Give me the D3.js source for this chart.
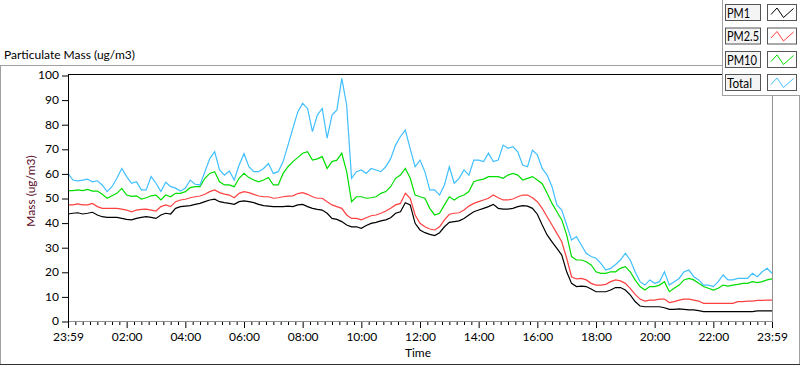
<!DOCTYPE html>
<html>
<head>
<meta charset="utf-8">
<script src="https://cdn.jsdelivr.net/npm/d3@7"></script>
<style>
  html, body { margin: 0; padding: 0; background: #fff; }
  svg { display: block; }
  text { font-family: "Segoe UI", Lato, "Noto Sans", sans-serif; }
</style>
</head>
<body>
<svg id="chart" width="800" height="365"></svg>
<script>
const seriesNames = ["PM1", "PM2.5", "PM10", "Total"];
const seriesColors = ["#000000", "#ff4040", "#00dd00", "#40bfff"];
const tickLabels = ["23:59","02:00","04:00","06:00","08:00","10:00","12:00","14:00","16:00","18:00","20:00","22:00","23:59"];
const yTicks = [0,10,20,30,40,50,60,70,80,90,100];

const pm1 = [43.5,43.8,44,43.5,43.8,44.2,43.1,42.4,42.1,42.1,42.1,41.7,41.3,41.1,41.7,42.1,42.4,42.1,41.7,43.1,43.8,43.5,45.8,46.5,46.7,46.9,47.4,47.8,48.5,49.2,49.5,48.5,48.1,47.8,47.4,48.5,48.8,48.5,48.1,47.4,46.9,46.7,46.5,46.5,46.5,46.7,46.5,47.2,47.4,
  46.5,45.8,45.4,45.1,43.8,41.7,41.3,40.4,39,38.3,38.3,37.7,38.8,39.7,40.1,40.7,41.1,42,43.8,44.4,48.1,47.2,39.7,37,35.9,35.2,34.7,35.9,38.3,40.1,40.4,40.7,41.7,43.1,44.4,45.1,45.8,46.5,47.4,45.8,45.5,45.5,45.8,46.5,46.9,46.7,45.8,43.4,
  39,35,32.2,29.5,26.8,20,15.3,14,14.2,14,13,11.9,11.9,11.9,12.6,13.6,13.6,12.6,10.6,7.9,6.1,5.8,5.8,5.8,5.8,5.4,4.7,4.7,4.9,4.7,4.5,4.5,4.2,3.8,3.8,3.8,3.8,3.8,3.8,3.8,3.8,3.8,3.8,3.8,4.1,4.1,4.1,4.1];

const pm25 = [47.2,47.2,47.6,47.2,47.2,47.8,46.5,45.8,45.8,45.8,45.8,45.5,45.1,44.4,45.1,45.4,45.5,45.1,44.7,46.5,47.2,46.5,48.5,49.2,49.5,50.1,50.5,50.8,51.5,52.6,53.3,52.2,51.6,51.2,50.1,51.9,52.6,52.2,51.5,50.8,50.5,50.5,49.9,50.1,50.5,50.8,50.9,51.8,52.2,
  51.5,50.5,49.9,49.9,48.5,47.2,46.5,45.8,43.1,41.7,41.7,41.1,42,42.8,43.1,43.8,44.7,45.8,47.2,47.8,51.9,49.9,43.1,39.7,38.3,37.4,37,38.3,41.1,43.4,43.8,44,45.1,46.7,47.8,48.5,49.2,49.9,51.2,50.1,49.2,49.2,49.6,50.5,51.2,51.2,50.1,48.5,
  45.8,42.4,39,35.6,32.2,25.5,18,17.1,17.3,16.7,15.3,14.6,14.6,14.9,16,16.7,16.3,15.3,13.3,10.8,8.9,8.1,8.5,8.5,8.9,8.9,7.5,7.9,8.5,8.9,8.9,8.5,8.1,7.2,7.2,7.2,7.2,7.2,7.2,7.2,7.9,7.9,8.1,8.1,8.4,8.4,8.5,8.5];

const pm10 = [53,53,53.3,53,53.5,52.8,52.8,51.5,49.9,50.9,51.9,53.9,51.2,50.7,50.9,49.6,50.1,50.9,51.2,49.2,51.2,50.5,51.9,51.9,52.6,54.2,54.6,54.6,58,60,60.7,56.6,55.3,55.3,54.6,58,60,58.3,57.3,56.6,57.3,58.3,55.3,55.3,60,62.7,64.8,66.4,68.2,
  68.8,65.4,65.9,66.8,62,64.8,65.4,68.2,60.7,48.5,50.5,50.5,49.9,50.1,50.5,51.9,52.6,54.6,58,59.3,62,58,51.2,50.5,49.9,45.8,43.1,43.8,47.2,50.5,49.2,50.5,51.2,52.6,56.6,57.3,57.7,58.7,58.7,58.7,58,59.3,60,59.3,57.3,58,58.7,57.3,
  55.8,51.9,47.8,44.4,41.1,35,26.2,24.8,24.8,24.1,22.8,20,19.4,19.4,20,20,21.4,22.1,20,16.7,14,12.6,14,14,14.6,16,11.9,13.3,14.6,16.7,17.3,16.7,15.3,14,13.3,12.6,13.3,14.6,14.2,14.6,14.9,15.3,15.3,16,15.6,16,16.7,17.1];

const total = [60,57.3,57,57.3,57.7,56.6,57,55.3,52.6,54.6,58,62,58.7,56,56.6,53.3,53.3,58.7,56,52.6,56.4,54.6,54,52.8,54,57.3,55.6,55.3,60.7,66,68.8,61.4,59.3,61,57.3,63.4,68,62.7,60.7,60.7,62,64,60,60.7,64.8,71.5,78.3,85,88.5,
  86.4,77,83.7,86.4,74.3,83.7,85.8,98.6,87.8,58,60.7,61.4,60,62,61.4,60.7,62.7,66,71.5,75,77.6,70,62.7,65.4,60.7,53.3,53.3,51.2,55.3,62.7,56,58,61.4,59.3,65.4,65.4,64.8,68.2,64.8,65.4,71.5,70.2,70.9,68.8,63.4,62.7,69.5,67.5,
  62,59.3,54.6,47.2,45.1,39,32.9,34.3,30.9,27.5,26.2,25.5,23.4,20.7,21.4,23,24.8,27.5,24.8,20,16,14.6,16.7,15.3,16,20,14.6,16,17.3,20,20.7,18,16.7,14.6,14.6,14,16,18.7,16.7,16.7,17.3,17.3,17.3,19.4,18,20,21.4,19.4];

const seriesValues = [pm1, pm25, pm10, total];
const sampleMinutes = pm1.map((d, i) => i * 10);   // minutes since 23:59

// ---- layout ----
const svg = d3.select("#chart");
const plot = { left: 68, right: 772, top: 75, bottom: 321 };
const x = d3.scaleLinear().domain([0, 1440]).range([plot.left, plot.right]);
const y = d3.scaleLinear().domain([0, 100]).range([plot.bottom, plot.top]);

svg.append("rect").attr("width", 800).attr("height", 365).attr("fill", "#fff");

// outer panel frame
svg.append("line").attr("x1", 0).attr("x2", 722).attr("y1", 65.5).attr("y2", 65.5).attr("stroke", "#a0a0a0");
svg.append("line").attr("x1", 0.5).attr("x2", 0.5).attr("y1", 65).attr("y2", 365).attr("stroke", "#a0a0a0");
svg.append("line").attr("x1", 799.5).attr("x2", 799.5).attr("y1", 0).attr("y2", 365).attr("stroke", "#a0a0a0");
svg.append("line").attr("x1", 0).attr("x2", 800).attr("y1", 364.5).attr("y2", 364.5).attr("stroke", "#303030");

// title
svg.append("text").attr("x", 4).attr("y", 59).attr("font-size", 12).attr("fill", "#000")
  .text("Particulate Mass (ug/m3)");

// plot background
svg.append("rect").attr("x", plot.left).attr("y", plot.top).attr("width", plot.right - plot.left).attr("height", plot.bottom - plot.top).attr("fill", "#fff");

// series lines
const line = d3.line().x((d, i) => x(sampleMinutes[i])).y(d => y(d));
seriesValues.forEach((vals, k) => {
  svg.append("path").datum(vals).attr("d", line).attr("fill", "none")
    .attr("stroke", seriesColors[k]).attr("stroke-width", 1.2).attr("stroke-linejoin", "miter");
});

// plot frame
svg.append("line").attr("x1", plot.left).attr("x2", plot.right).attr("y1", 74.5).attr("y2", 74.5).attr("stroke", "#000");
svg.append("line").attr("x1", plot.right + 0.5).attr("x2", plot.right + 0.5).attr("y1", 74).attr("y2", 322).attr("stroke", "#909090");
svg.append("line").attr("x1", plot.left).attr("x2", plot.right + 1).attr("y1", plot.bottom + 0.5).attr("y2", plot.bottom + 0.5).attr("stroke", "#909090");
svg.append("line").attr("x1", plot.left + 0.5).attr("x2", plot.left + 0.5).attr("y1", 74).attr("y2", 323).attr("stroke", "#000");

// y axis
const yAxis = d3.axisLeft(y).tickValues(yTicks).tickSize(6).tickPadding(3);
const gy = svg.append("g").attr("transform", `translate(${plot.left},0)`).call(yAxis);
gy.select(".domain").remove();
gy.selectAll(".tick line").attr("stroke", "#000").attr("transform", "translate(0,0.5)");
gy.selectAll(".tick text").attr("font-size", 12).attr("fill", "#000")
  .attr("font-family", '"Segoe UI", Lato, "Noto Sans", sans-serif');

// x axis
const majorMin = tickLabels.map((d, i) => i * 120);
const minorMin = d3.range(0, 1441, 15).filter(m => m % 120 !== 0);
const gxMinor = svg.append("g").attr("transform", `translate(0,${plot.bottom + 1})`)
  .call(d3.axisBottom(x).tickValues(minorMin).tickSize(3).tickFormat(""));
gxMinor.select(".domain").remove();
gxMinor.selectAll(".tick line").attr("stroke", "#000");
const gx = svg.append("g").attr("transform", `translate(0,${plot.bottom + 1})`)
  .call(d3.axisBottom(x).tickValues(majorMin).tickSize(6).tickPadding(4).tickFormat((d, i) => tickLabels[i]));
gx.select(".domain").remove();
gx.selectAll(".tick line").attr("stroke", "#000");
gx.selectAll(".tick text").attr("font-size", 12).attr("fill", "#000")
  .attr("font-family", '"Segoe UI", Lato, "Noto Sans", sans-serif');

// axis titles
svg.append("text").attr("x", 418).attr("y", 357).attr("text-anchor", "middle").attr("font-size", 12).attr("fill", "#000").text("Time");
svg.append("text").attr("transform", "translate(35,191) rotate(-90)").attr("text-anchor", "middle")
  .attr("font-size", 12).attr("fill", "#5a0a28").text("Mass (ug/m3)");

// legend panel
const lg = svg.append("g");
lg.append("rect").attr("x", 722).attr("y", 0).attr("width", 78).attr("height", 95).attr("fill", "#fff");
lg.append("line").attr("x1", 722.5).attr("x2", 722.5).attr("y1", 0).attr("y2", 96).attr("stroke", "#a0a0a0");
lg.append("line").attr("x1", 722).attr("x2", 800).attr("y1", 95.5).attr("y2", 95.5).attr("stroke", "#a0a0a0");
const rowTops = [4, 27.5, 51, 74];
const labelWidths = [23, 32, 30, 25];
seriesNames.forEach((name, k) => {
  const t = rowTops[k];
  lg.append("rect").attr("x", 725.5).attr("y", t + 0.5).attr("width", 35).attr("height", 16)
    .attr("fill", "#f4f4f4").attr("stroke", "#555");
  lg.append("text").attr("x", 727).attr("y", t + 13.5).attr("font-size", 14).attr("fill", "#000")
    .attr("textLength", labelWidths[k]).attr("lengthAdjust", "spacingAndGlyphs").text(name);
  lg.append("rect").attr("x", 767.5).attr("y", t + 0.5).attr("width", 29).attr("height", 16)
    .attr("fill", "#fff").attr("stroke", "#555");
  const zz = [[3.5, 10], [9.5, 3.5], [16, 13], [26, 4]].map(p => [767.5 + p[0], t + 0.5 + p[1]]);
  lg.append("path").attr("d", d3.line()(zz)).attr("fill", "none").attr("stroke", seriesColors[k]).attr("stroke-width", 1);
});
</script>
</body>
</html>
